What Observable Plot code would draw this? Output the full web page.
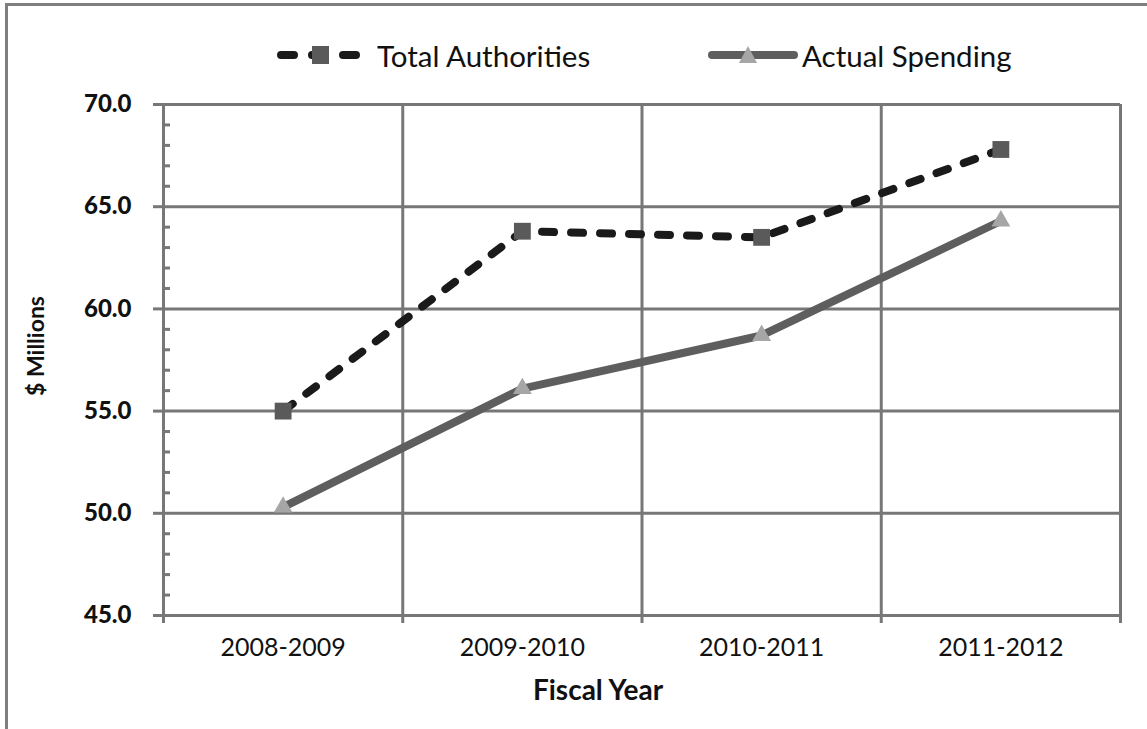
<!DOCTYPE html>
<html>
<head>
<meta charset="utf-8">
<script src="https://cdn.jsdelivr.net/npm/d3@7"></script>
<script src="https://cdn.jsdelivr.net/npm/@observablehq/plot@0.6"></script>
<style>
  html, body { margin: 0; padding: 0; background: #fff; }
  body { width: 1147px; height: 729px; overflow: hidden; position: relative; font-family: Lato, "Open Sans", sans-serif; }
  #frame { position: absolute; left: 5px; top: 3px; width: 1300px; height: 900px; z-index: 2; pointer-events: none;
           border-left: 3px solid #7f7f7f; border-top: 3px solid #7f7f7f; box-sizing: border-box; }
  #legend { position: absolute; left: 0; top: 0; width: 1147px; height: 80px; }
  .item { position: absolute; top: 40px; height: 30px; display: flex; align-items: center; gap: 14px;
          font-size: 29.5px; color: #111; white-space: nowrap; }
  #chart { position: absolute; left: 0; top: 80px; }
</style>
</head>
<body>
<div id="frame"></div>
<div id="legend"></div>
<div id="chart"></div>
<script>
// ---- data ----
const categories = ["2008-2009", "2009-2010", "2010-2011", "2011-2012"];
const totalAuthorities = [55.0, 63.8, 63.5, 67.8];
const actualSpending = [50.3, 56.1, 58.7, 64.3];
const seriesNames = ["Total Authorities", "Actual Spending"];
const yMajorTicks = [45, 50, 55, 60, 65, 70];
const yMinorTicks = [46, 47, 48, 49, 51, 52, 53, 54, 56, 57, 58, 59, 61, 62, 63, 64, 66, 67, 68, 69];
const yLabel = "$ Millions";
const xLabel = "Fiscal Year";

// ---- styles ----
const gridColor = "#777777";
const totalLineColor = "#1a1a1a";
const totalMarkerColor = "#5a5a5a";
const actualLineColor = "#5e5e5e";
const actualMarkerColor = "#a6a6a6";

const idx = categories.map((_, i) => i);
const boundaries = d3.range(categories.length + 1).map(i => i - 0.5);
const totalData = idx.map(i => ({i, v: totalAuthorities[i]}));
const actualData = idx.map(i => ({i, v: actualSpending[i]}));

// ---- legend ----
const legend = document.getElementById("legend");
function legendItem(left, gap, swatchSvg, label) {
  const d = document.createElement("div");
  d.className = "item";
  d.style.left = left + "px";
  d.style.gap = gap + "px";
  d.innerHTML = swatchSvg + `<span>${label}</span>`;
  legend.appendChild(d);
}
legendItem(277, 14,
  `<svg width="86" height="26"><line x1="4" y1="13" x2="82" y2="13" stroke="${totalLineColor}" stroke-width="8" stroke-linecap="round" stroke-dasharray="13,18"/>
   <rect x="35" y="4" width="17" height="18" fill="${totalMarkerColor}"/></svg>`, seriesNames[0]);
legendItem(708, 4,
  `<svg width="90" height="26"><line x1="4" y1="13" x2="86" y2="13" stroke="${actualLineColor}" stroke-width="8" stroke-linecap="round"/>
   <path d="M40,4 L49,21 L31,21 Z" fill="${actualMarkerColor}"/></svg>`, seriesNames[1]);

// ---- chart ----
const chart = Plot.plot({
  width: 1147,
  height: 649,
  marginTop: 24,
  marginBottom: 114,
  marginLeft: 163,
  marginRight: 27,
  style: {fontFamily: "Lato, sans-serif", background: "transparent", color: "#111"},
  x: {type: "linear", domain: [-0.5, categories.length - 0.5], axis: null},
  y: {domain: [45, 70], axis: null},
  marks: [
    Plot.ruleY(yMajorTicks, {stroke: gridColor, strokeWidth: 3}),
    Plot.ruleX(boundaries, {y1: 45, y2: 70, stroke: gridColor, strokeWidth: 3}),
    Plot.axisY(yMajorTicks, {
      tickSize: 10, tickPadding: 22, stroke: gridColor, strokeWidth: 3,
      tickFormat: d3.format(".1f"), fontFamily: "Lato", fontWeight: 900, fontSize: 24, fill: "#111",
      label: null
    }),
    Plot.axisY(yMinorTicks, {tickSize: -7, stroke: gridColor, strokeWidth: 3, tickFormat: null, text: null, label: null}),
    Plot.text([yLabel], {frameAnchor: "left", rotate: -90, dx: -127, dy: -14, textAnchor: "middle",
      fontFamily: "Lato", fontWeight: "bold", fontSize: 23, fill: "#111"}),
    Plot.axisX(boundaries, {tickSize: 8, stroke: gridColor, strokeWidth: 3, tickFormat: null, text: null, label: null}),
    Plot.axisX(idx, {tickSize: 0, tickPadding: 23, tickFormat: i => categories[i],
      fontFamily: "Lato", fontSize: 25, fill: "#111", label: null}),
    Plot.text([xLabel], {frameAnchor: "bottom", dy: 84, dx: -44, fontFamily: "Lato", fontWeight: "bold", fontSize: 28, fill: "#111"}),
    Plot.line(actualData, {x: "i", y: "v", stroke: actualLineColor, strokeWidth: 8, strokeLinecap: "round"}),
    Plot.dot(actualData, {x: "i", y: "v", symbol: "triangle", r: 7, fill: actualMarkerColor, stroke: "none"}),
    Plot.line(totalData, {x: "i", y: "v", stroke: totalLineColor, strokeWidth: 8, strokeLinecap: "round", strokeDasharray: "12,17"}),
    Plot.dot(totalData, {x: "i", y: "v", symbol: "square", r: 9.5, fill: totalMarkerColor, stroke: "none"})
  ]
});
document.getElementById("chart").appendChild(chart);
</script>
</body>
</html>
